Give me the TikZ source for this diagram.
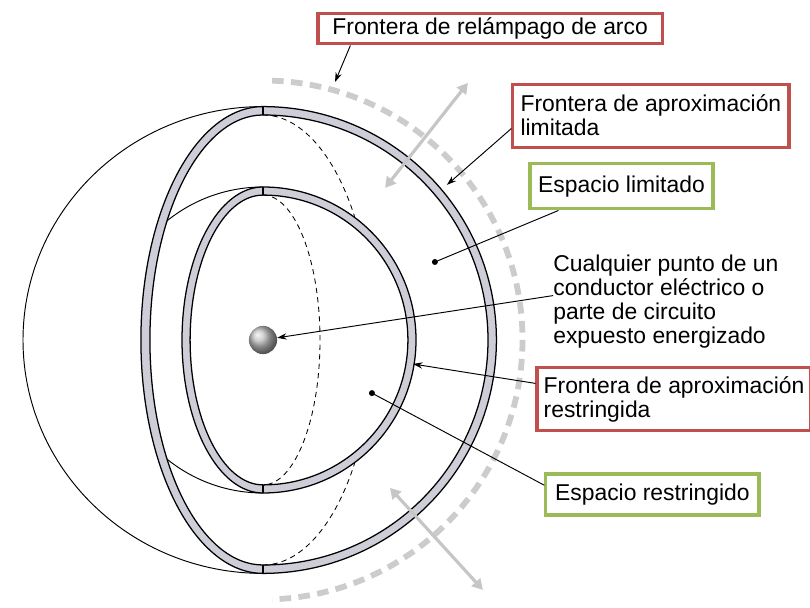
\documentclass[tikz,border=0pt]{standalone}
\usepackage{fontspec}
\setmainfont{Liberation Sans}
\usepackage{xcolor}
\usepackage{tikz}
\usetikzlibrary{positioning,calc,arrows.meta}

\definecolor{boxred}{RGB}{192,80,77}
\definecolor{boxgreen}{RGB}{155,187,89}
\definecolor{bandgray}{RGB}{206,206,216}

\begin{document}
\begin{tikzpicture}[
    font=\fontsize{21.7}{22.7}\selectfont,
    >={Stealth[length=9pt,width=6pt]},
    redbox/.style={draw=boxred, line width=3pt, fill=white, align=left, inner sep=1pt},
    greenbox/.style={draw=boxgreen, line width=3pt, fill=white, align=left, inner sep=1pt},
    shell/.style={line width=1.2pt},
    hidden/.style={line width=0.8pt, dash pattern=on 5pt off 4pt},
    pointer/.style={line width=0.9pt},
    flasharrow/.style={gray!45, line width=3pt, {Triangle[length=10pt,width=11pt]}-{Triangle[length=10pt,width=11pt]}}
]
    \useasboundingbox (-8.767,-8.933) rectangle (18.233,11.333);

    % Outer sphere
    \draw[pointer] (0,7.78) arc[start angle=90, end angle=270, x radius=8.0, y radius=7.78];
    \fill[bandgray, even odd rule]
        (0,-7.78) arc[start angle=-90, end angle=90, radius=7.78]
                  arc[start angle=90, end angle=270, x radius=4.07, y radius=7.78]
        (0,-7.5) arc[start angle=-90, end angle=90, radius=7.5]
                 arc[start angle=90, end angle=270, x radius=3.77, y radius=7.5];
    \draw[shell] (0,-7.78) arc[start angle=-90, end angle=90, radius=7.78]
                 arc[start angle=90, end angle=270, x radius=4.07, y radius=7.78];
    \draw[shell] (0,-7.5) arc[start angle=-90, end angle=90, radius=7.5]
                 arc[start angle=90, end angle=270, x radius=3.77, y radius=7.5];
    \draw[shell] (0,7.5) -- (0,7.78) (0,-7.5) -- (0,-7.78);
    \draw[hidden] (0,7.5) arc[start angle=90, end angle=33, x radius=3.65, y radius=7.5];
    \draw[hidden] (0,-7.5) arc[start angle=-90, end angle=-33, x radius=3.65, y radius=7.5];

    % Inner sphere
    \begin{scope}
        \clip (0,0) ellipse [x radius=3.77, y radius=7.5];
        \draw[pointer] (0,5.1) arc[start angle=90, end angle=270, radius=5.1];
    \end{scope}
    \fill[bandgray, even odd rule]
        (0,-5.1) arc[start angle=-90, end angle=90, radius=5.1]
                 arc[start angle=90, end angle=270, x radius=2.7, y radius=5.1]
        (0,-4.83) arc[start angle=-90, end angle=90, radius=4.83]
                  arc[start angle=90, end angle=270, x radius=2.43, y radius=4.83];
    \draw[shell] (0,-5.1) arc[start angle=-90, end angle=90, radius=5.1]
                 arc[start angle=90, end angle=270, x radius=2.7, y radius=5.1];
    \draw[shell] (0,-4.83) arc[start angle=-90, end angle=90, radius=4.83]
                 arc[start angle=90, end angle=270, x radius=2.43, y radius=4.83];
    \draw[shell] (0,4.83) -- (0,5.1) (0,-4.83) -- (0,-5.1);
    \draw[hidden] (0,4.83) arc[start angle=90, end angle=-90, x radius=1.9, y radius=4.83];

    % Energized part
    \node[circle, inner sep=0pt, minimum size=0.94cm, ball color=gray!50] (ball) at (0,0) {};

    % Arc flash boundary
    \draw[gray!40, line width=5.5pt, dash pattern=on 11pt off 7pt]
        (88:8.65) arc[start angle=88, end angle=-88, radius=8.65];
    \draw[flasharrow] (4.07,5.07) -- (6.83,8.57);
    \draw[flasharrow] (4.23,-4.93) -- (7.33,-8.33);

    % Labels
    \node[redbox, minimum width=11.47cm, minimum height=1cm] (fra) at (7.57,10.37) {Frontera de relámpago de arco};
    \node[redbox, minimum width=9.2cm, minimum height=2.1cm] (fal) at (12.93,7.48) {Frontera de aproximación\\limitada};
    \node[greenbox, minimum width=6.1cm, minimum height=1.5cm] (el) at (11.95,5.12) {Espacio limitado};
    \node[align=left, inner sep=0pt, anchor=west] (cp) at (9.67,1.28) {Cualquier punto de un\\conductor eléctrico o\\parte de circuito\\expuesto energizado};
    \node[redbox, minimum width=9.13cm, minimum height=2.1cm] (far) at (13.7,-1.98) {Frontera de aproximación\\restringida};
    \node[greenbox, minimum width=7.1cm, minimum height=1.37cm] (er) at (12.98,-5.15) {Espacio restringido};

    % Pointers
    \coordinate (fraT) at (2.4,8.6);
    \coordinate (falT) at (6.13,5.17);
    \coordinate (elD) at (5.73,2.6);
    \coordinate (farT) at (5.0,-0.8);
    \coordinate (erD) at (3.63,-1.77);
    \draw[pointer,->] ([xshift=1.13cm]fra.south west) -- (fraT);
    \draw[pointer,->] ([yshift=0.67cm]fal.south west) -- (falT);
    \draw[pointer] ([xshift=1cm]el.south west) -- (elD);
    \fill (elD) circle (0.1);
    \draw[pointer,->] ([yshift=0.2cm]cp.west) -- (ball);
    \draw[pointer,->] ([yshift=-0.57cm]far.north west) -- (farT);
    \draw[pointer] ([yshift=-0.43cm]er.north west) -- (erD);
    \fill (erD) circle (0.1);
\end{tikzpicture}
\end{document}
